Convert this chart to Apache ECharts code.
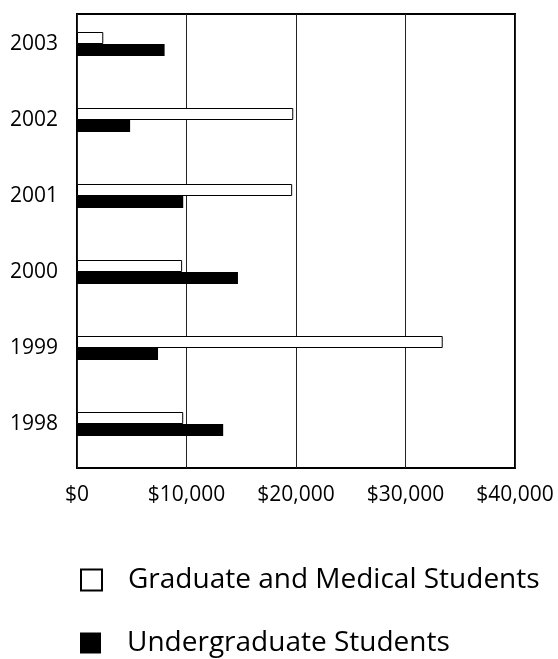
<!DOCTYPE html>
<html>
<head>
<meta charset="utf-8">
<script src="https://cdn.jsdelivr.net/npm/echarts@6/dist/echarts.min.js"></script>
<style>
  html, body { margin: 0; padding: 0; background: #fff; }
  #chart { width: 558px; height: 659px; }
</style>
</head>
<body>
<div id="chart"></div>
<script>
const years = ['1998', '1999', '2000', '2001', '2002', '2003'];
const graduate = [9700, 33400, 9600, 19650, 19750, 2400];
const undergraduate = [13350, 7400, 14700, 9700, 4850, 8000];
const xTicks = [0, 10000, 20000, 30000, 40000];
const seriesNames = ['Graduate and Medical Students', 'Undergraduate Students'];

const font = 'Open Sans';

const legendItem = (name, top) => ({
    left: 80,
    top: top,
    itemWidth: 21,
    itemHeight: 21,
    icon: 'rect',
    padding: 0,
    data: [name],
    textStyle: { fontSize: 28, lineHeight: 30, color: '#000', fontFamily: font, padding: [0, 0, 0, 21] }
});

const chart = echarts.init(document.getElementById('chart'));

chart.setOption({
    animation: false,
    textStyle: { fontFamily: font },
    grid: [
        // frame with gridlines and x labels
        { left: 77, right: 43, top: 14, height: 454, show: true, borderColor: '#000', borderWidth: 2 },
        // bars
        { left: 77, right: 43, top: 6, height: 456 }
    ],
    legend: [
        legendItem(seriesNames[0], 565),
        legendItem(seriesNames[1], 628)
    ],
    xAxis: [
        {
            gridIndex: 0,
            type: 'value',
            min: xTicks[0],
            max: xTicks[xTicks.length - 1],
            interval: 10000,
            axisLine: { show: false },
            axisTick: { show: false },
            splitLine: { show: true, lineStyle: { color: '#222', width: 1 } },
            axisLabel: {
                color: '#000',
                fontSize: 21,
                margin: 17,
                formatter: (v) => '$' + v.toLocaleString('en-US')
            }
        },
        {
            gridIndex: 1,
            type: 'value',
            min: xTicks[0],
            max: xTicks[xTicks.length - 1],
            show: false
        }
    ],
    yAxis: [
        { gridIndex: 0, type: 'value', show: false },
        {
            gridIndex: 1,
            type: 'category',
            data: years,
            axisLine: { show: false },
            axisTick: { show: false },
            axisLabel: { color: '#000', fontSize: 21, margin: 19 }
        }
    ],
    series: [
        {
            name: seriesNames[0],
            type: 'bar',
            xAxisIndex: 1,
            yAxisIndex: 1,
            barWidth: 12,
            barGap: '0%',
            itemStyle: { color: '#fff', borderColor: '#000', borderWidth: 1 },
            data: graduate
        },
        {
            name: seriesNames[1],
            type: 'bar',
            xAxisIndex: 1,
            yAxisIndex: 1,
            barWidth: 12,
            barGap: '0%',
            itemStyle: { color: '#000' },
            data: undergraduate
        }
    ]
});
</script>
</body>
</html>
